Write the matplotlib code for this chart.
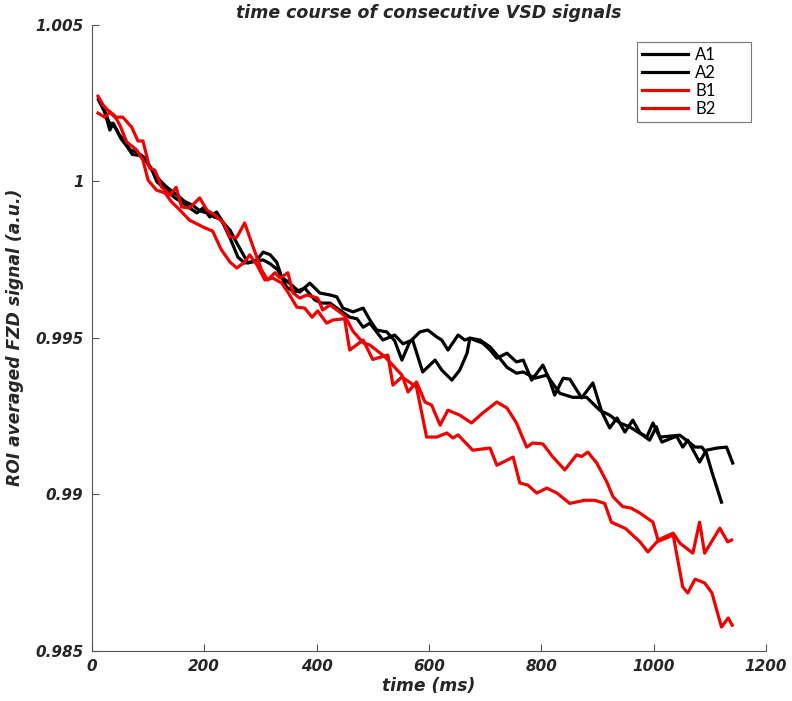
import numpy as np
import matplotlib
matplotlib.use("Agg")
import matplotlib.pyplot as plt

# time (ms) / signal readings for each trace
t_A1 = [12, 23, 32, 38, 48, 59, 68, 80, 94, 107, 116, 133, 148, 162, 174, 187, 198, 210, 222, 233,
        246, 258, 278, 294, 305, 317, 329, 338, 349, 370, 388, 406, 424, 436, 447, 465, 483, 495, 507, 525,
        539, 552, 566, 584, 598, 614, 623, 634, 652, 664, 673, 696, 709, 721, 739, 756, 768, 783, 803, 815,
        824, 839, 851, 872, 892, 908, 922, 935, 949, 963, 976, 988, 999, 1015, 1041, 1052, 1061, 1082, 1094, 1113,
        1130, 1141]
v_A1 = [1.00258, 1.0022, 1.00163, 1.00185, 1.0015, 1.00125, 1.00099, 1.00093, 1.00074, 1.00035, 0.99997, 0.99971, 0.99946, 0.9993, 0.99914, 0.99898, 0.99914, 0.99885, 0.99901, 0.99869,
        0.99843, 0.99802, 0.99738, 0.99748, 0.99773, 0.99765, 0.99741, 0.99693, 0.99678, 0.99645, 0.99674, 0.99642, 0.99636, 0.9963, 0.99594, 0.99582, 0.99594, 0.99556, 0.99524, 0.99518,
        0.9949, 0.99428, 0.99486, 0.99518, 0.99524, 0.99502, 0.99492, 0.9946, 0.99508, 0.99492, 0.99498, 0.99482, 0.9946, 0.99434, 0.9945, 0.99422, 0.99428, 0.99364, 0.99412, 0.99364,
        0.99316, 0.9937, 0.99367, 0.99307, 0.99355, 0.99262, 0.99211, 0.99243, 0.99198, 0.99236, 0.99195, 0.99182, 0.99227, 0.99166, 0.99185, 0.9915, 0.99172, 0.99102, 0.9914, 0.99147,
        0.9915, 0.99099]

t_A2 = [12, 20, 30, 42, 52, 62, 72, 85, 98, 110, 122, 135, 150, 165, 180, 192, 205, 218, 230, 246,
        260, 272, 287, 305, 318, 331, 347, 361, 379, 397, 409, 424, 441, 459, 472, 483, 495, 518, 539, 554,
        571, 589, 611, 623, 641, 655, 668, 673, 691, 709, 726, 739, 756, 768, 789, 810, 833, 856, 881, 904,
        922, 940, 958, 981, 993, 1005, 1011, 1047, 1074, 1086, 1094, 1104, 1121]
v_A2 = [1.00262, 1.00235, 1.0019, 1.0017, 1.00135, 1.00112, 1.00085, 1.00082, 1.0006, 1.00028, 1.0, 0.99978, 0.99958, 0.99935, 0.99922, 0.99905, 0.99898, 0.99885, 0.99878, 0.99818,
        0.99757, 0.99738, 0.99742, 0.99748, 0.99735, 0.99716, 0.99661, 0.99645, 0.99658, 0.9962, 0.9961, 0.9961, 0.99588, 0.99565, 0.9956, 0.99533, 0.99546, 0.99492, 0.99508, 0.9948,
        0.99492, 0.9939, 0.99428, 0.99396, 0.99364, 0.99396, 0.9945, 0.99498, 0.99492, 0.9947, 0.99434, 0.99405, 0.99386, 0.9939, 0.9937, 0.9938, 0.99322, 0.99309, 0.99309, 0.99268,
        0.99252, 0.99227, 0.99214, 0.99188, 0.99172, 0.99215, 0.99182, 0.99188, 0.9915, 0.9915, 0.99131, 0.9907, 0.98974]

t_B1 = [11, 23, 32, 41, 55, 71, 82, 91, 103, 112, 124, 139, 150, 160, 174, 192, 205, 220, 235, 246,
        258, 272, 287, 302, 313, 326, 335, 349, 358, 370, 383, 402, 411, 424, 450, 465, 483, 495, 522, 552,
        563, 578, 593, 605, 620, 634, 655, 676, 696, 721, 739, 756, 774, 785, 803, 821, 842, 863, 872, 883,
        899, 917, 928, 945, 960, 976, 999, 1008, 1035, 1047, 1070, 1082, 1091, 1118, 1132, 1139]
v_B1 = [1.00217, 1.00204, 1.0022, 1.00204, 1.00204, 1.00172, 1.00128, 1.00128, 1.00041, 1.00035, 0.99981, 0.99955, 0.9998, 0.99917, 0.99914, 0.99946, 0.99907, 0.9989, 0.99865, 0.99821,
        0.9982, 0.99866, 0.9979, 0.99716, 0.99684, 0.99707, 0.9969, 0.99707, 0.99643, 0.99626, 0.99636, 0.99626, 0.99588, 0.99604, 0.9957, 0.9952, 0.99483, 0.99476, 0.99438, 0.9938,
        0.99326, 0.99358, 0.99294, 0.99284, 0.9922, 0.99268, 0.99252, 0.99227, 0.99259, 0.99294, 0.99275, 0.99227, 0.9915, 0.99163, 0.9916, 0.99118, 0.99077, 0.99125, 0.9912, 0.99134,
        0.99099, 0.99038, 0.98991, 0.9896, 0.98955, 0.98939, 0.9891, 0.98853, 0.98875, 0.98843, 0.98811, 0.9891, 0.98811, 0.98891, 0.98847, 0.98853]

t_B2 = [11, 20, 28, 40, 50, 62, 80, 91, 100, 115, 130, 142, 153, 174, 198, 215, 230, 246, 258, 272,
        281, 294, 308, 322, 338, 349, 365, 379, 392, 402, 418, 429, 450, 459, 483, 500, 527, 536, 552, 578,
        596, 614, 632, 643, 652, 678, 709, 721, 750, 762, 776, 792, 810, 828, 851, 877, 895, 913, 925, 950,
        976, 990, 1006, 1035, 1052, 1061, 1074, 1091, 1104, 1121, 1133, 1140]
v_B2 = [1.00271, 1.00243, 1.00227, 1.0021, 1.00178, 1.00125, 1.00099, 1.00067, 1.00003, 0.99971, 0.99962, 0.99933, 0.99914, 0.99875, 0.99853, 0.9984, 0.99782, 0.99741, 0.99722, 0.99741,
        0.99764, 0.99732, 0.99684, 0.9969, 0.99674, 0.99645, 0.99597, 0.99594, 0.99565, 0.99585, 0.99546, 0.99556, 0.9956, 0.9946, 0.99492, 0.9943, 0.99444, 0.99348, 0.99374, 0.99342,
        0.99182, 0.99182, 0.99195, 0.99179, 0.99189, 0.9914, 0.99147, 0.99092, 0.99118, 0.99035, 0.99029, 0.99003, 0.99019, 0.99003, 0.9897, 0.9898, 0.9898, 0.9897, 0.9891, 0.9889,
        0.98847, 0.98815, 0.98847, 0.98869, 0.98703, 0.98684, 0.98728, 0.98716, 0.98684, 0.98575, 0.98604, 0.98581]

x_ticks = [0, 200, 400, 600, 800, 1000, 1200]
y_ticks = [0.985, 0.99, 0.995, 1.0, 1.005]
y_ticklabels = ['0.985', '0.99', '0.995', '1', '1.005']

txt = '#262626'
fig = plt.figure(figsize=(7.92, 7.01), dpi=100)
ax = fig.add_axes([0.116, 0.072, 0.851, 0.893])

ax.plot(t_A1, v_A1, color='black', lw=2.3, label='A1')
ax.plot(t_A2, v_A2, color='black', lw=2.3, label='A2')
ax.plot(t_B1, v_B1, color='#f00000', lw=2.3, label='B1')
ax.plot(t_B2, v_B2, color='#f00000', lw=2.3, label='B2')

ax.set_xlim(0, 1200)
ax.set_ylim(0.985, 1.005)
ax.set_xticks(x_ticks)
ax.set_yticks(y_ticks)
ax.set_yticklabels(y_ticklabels)

for s in ['top', 'right']:
    ax.spines[s].set_visible(False)
for s in ['left', 'bottom']:
    ax.spines[s].set_color('#555555')
    ax.spines[s].set_linewidth(0.8)
ax.tick_params(direction='in', length=5, width=0.8, color='#555555', pad=6)

tfont = dict(family='DejaVu Sans', weight='bold', style='italic', color=txt)
for lab in ax.get_xticklabels() + ax.get_yticklabels():
    lab.set_fontsize(11)
    lab.set_fontweight('bold')
    lab.set_fontstyle('italic')
    lab.set_color(txt)

ax.set_xlabel('time (ms)', fontsize=12.3, labelpad=2, **tfont)
ax.set_ylabel('ROI averaged FZD signal (a.u.)', fontsize=12.3, labelpad=8, **tfont)
ax.set_title('time course of consecutive VSD signals', fontsize=12.5, pad=5, **tfont)

# MATLAB-like legend box, wider than its content
leg = ax.legend(loc='upper left', bbox_to_anchor=(0.8086, 0.0, 0.169, 0.972), mode='expand',
                borderaxespad=0, frameon=True, fancybox=False,
                prop={'family': 'Lato', 'size': 12}, handlelength=2.75, handletextpad=0.45,
                labelspacing=0.12, borderpad=0.3)
leg.get_frame().set_edgecolor('#555555')
leg.get_frame().set_linewidth(0.8)

fig.savefig('out.png', dpi=100)
